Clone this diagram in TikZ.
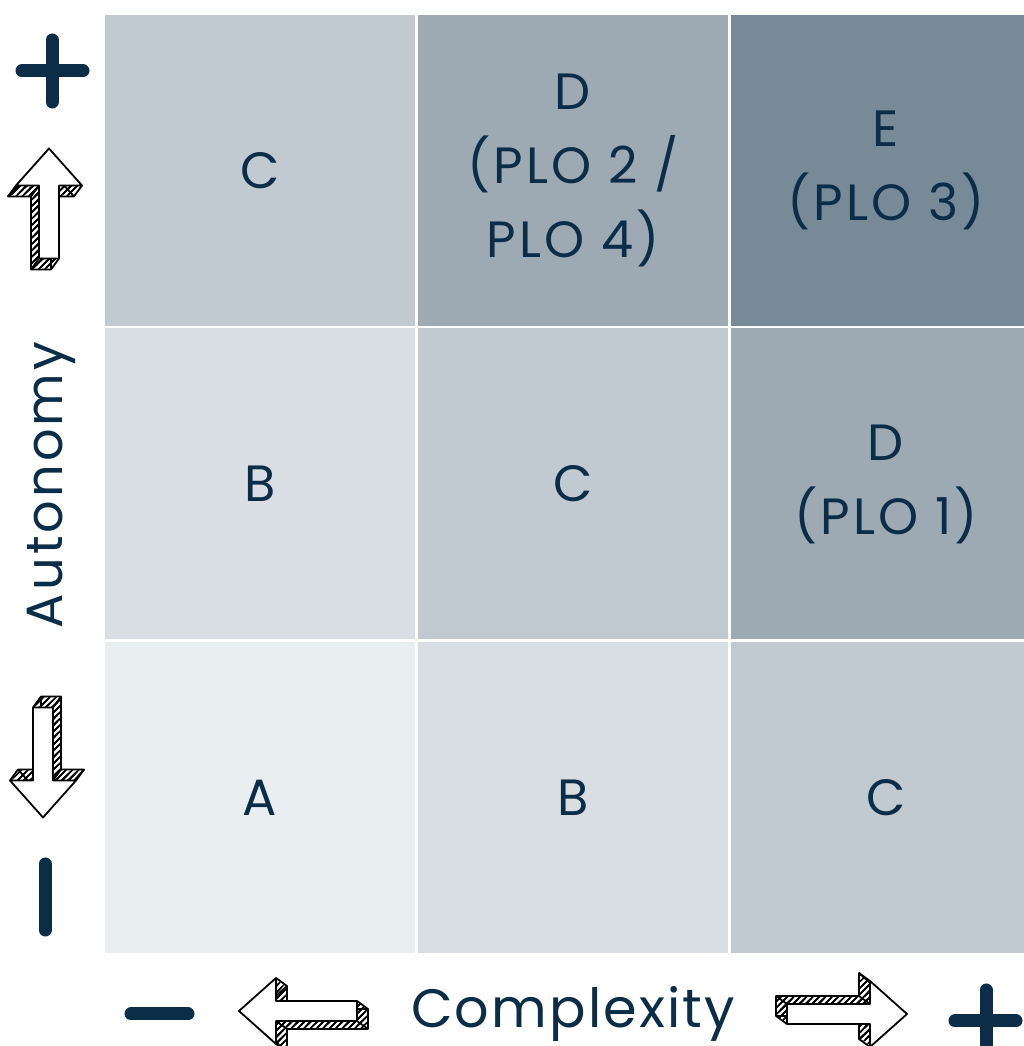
\documentclass[tikz,border=0pt]{standalone}
\usepackage{fontspec}
\newfontfamily\pop{Poppins}[LetterSpace=4]
\newfontfamily\popw{Poppins}[LetterSpace=6]
\usetikzlibrary{patterns.meta}
\definecolor{ink}{HTML}{0C2D48}
\definecolor{cA}{HTML}{E9EEF1}
\definecolor{cB}{HTML}{D8DEE3}
\definecolor{cC}{HTML}{C1C9D1}
\definecolor{cD}{HTML}{9DAAB4}
\definecolor{cE}{HTML}{778A98}
\tikzset{
  cell/.style={minimum width=310pt, minimum height=311pt, inner sep=0pt, align=center,
    text=ink, font={\popw\fontsize{51}{74}\selectfont}},
  axislabel/.style={text=ink, inner sep=0pt},
  signbar/.style={draw=ink, line width=13pt, line cap=round},
  sketchline/.style={draw=black, line width=1.8pt, line join=round},
  hatchfill/.style={pattern={Lines[angle=45,distance=4.5pt,line width=1.4pt]}},
}
\newcommand\arrowshape[1]{(0,#1) -- (33,#1-37) -- (10,#1-37) -- (10,-#1) -- (-10,-#1) -- (-10,#1-37) -- (-33,#1-37) -- cycle}
\newcommand\skarrow[4]{%
  \begin{scope}[shift={(#1,#2)},rotate=#3]
    \foreach \t in {0,0.1,0.2,0.3,0.4,0.5,0.6,0.7,0.8,0.9,1.0} {
      \begin{scope}[shift={(-8*\t,-11*\t)}]
        \fill[hatchfill] \arrowshape{#4};
      \end{scope}
    }
    \begin{scope}[shift={(-8,-11)}]
      \draw[sketchline] \arrowshape{#4};
    \end{scope}
    \foreach \p in {(0,#4),(33,#4-37),(10,#4-37),(10,-#4),(-10,-#4),(-10,#4-37),(-33,#4-37)} {
      \draw[sketchline] \p -- ++(-8,-11);
    }
    \filldraw[sketchline, fill=white] \arrowshape{#4};
  \end{scope}}
\begin{document}
\begin{tikzpicture}[x=1pt,y=1pt]
\useasboundingbox (0,0) rectangle (1024,1046);
\clip (0,0) rectangle (1024,1046);
\fill[white] (0,0) rectangle (1024,1046);
% grid cells
\node[cell, fill=cC] (c11) at (260,875.5) {C};
\node[cell, fill=cD] (c12) at (573,875.5) {D\\(PLO 2 /\\PLO 4)};
\node[cell, fill=cE] (c13) at (886,875.5) {E\\(PLO 3)};
\node[cell, fill=cB] (c21) at (260,562) {B};
\node[cell, fill=cC] (c22) at (573,562) {C};
\node[cell, fill=cD] (c23) at (886,562) {D\\(PLO 1)};
\node[cell, fill=cA] (c31) at (260,248.5) {A};
\node[cell, fill=cB] (c32) at (573,248.5) {B};
\node[cell, fill=cC] (c33) at (886,248.5) {C};
% axis labels
\node[axislabel, font={\pop\fontsize{54}{60}\selectfont}, anchor=base] (cx) at (573,18) {Complexity};
\node[axislabel, font={\popw\fontsize{51}{56}\selectfont}, rotate=90, anchor=base] (au) at (62,561) {Autonomy};
% signs
\coordinate (pl1) at (22,975); \coordinate (pr1) at (83,975);
\coordinate (pt1) at (52,1006); \coordinate (pb1) at (52,944);
\draw[signbar] (pl1) -- (pr1); \draw[signbar] (pt1) -- (pb1);
\coordinate (m1t) at (45,182); \coordinate (m1b) at (45,116);
\draw[signbar] (m1t) -- (m1b);
\coordinate (m2l) at (131,32); \coordinate (m2r) at (188,32);
\draw[signbar] (m2l) -- (m2r);
\coordinate (pl2) at (955,25); \coordinate (pr2) at (1016,25);
\coordinate (pt2) at (986,56); \coordinate (pb2) at (986,-6);
\draw[signbar] (pl2) -- (pr2); \draw[signbar] (pt2) -- (pb2);
% sketch arrows
\skarrow{49}{842.5}{0}{55}
\skarrow{43}{283.5}{180}{55}
\skarrow{298}{35}{90}{59}
\skarrow{847}{32}{-90}{60}
\end{tikzpicture}
\end{document}
